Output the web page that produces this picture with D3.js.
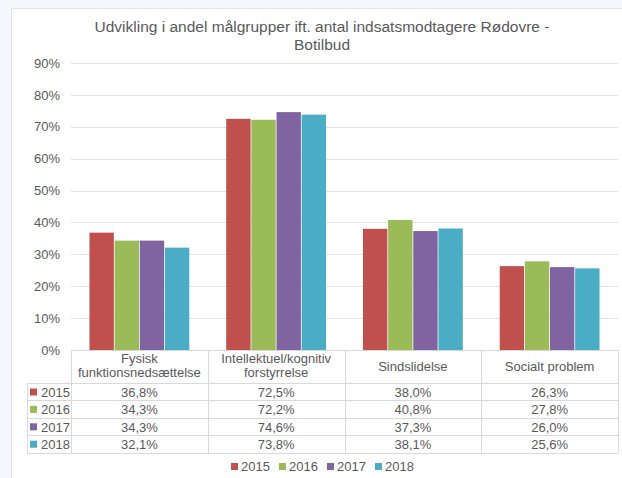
<!DOCTYPE html>
<html>
<head>
<meta charset="utf-8">
<script src="https://cdn.jsdelivr.net/npm/d3@7"></script>
<style>
body { margin: 0; background: #f4f7fc; }
text { font-family: "Liberation Sans", Arial, sans-serif; fill: #595959; }
</style>
</head>
<body>
<svg id="chart" width="622" height="478"></svg>
<script>
// data
const titleLines = ["Udvikling i andel målgrupper ift. antal indsatsmodtagere Rødovre -", "Botilbud"];
const categories = [["Fysisk", "funktionsnedsættelse"], ["Intellektuel/kognitiv", "forstyrrelse"], ["Sindslidelse"], ["Socialt problem"]];
const years = ["2015", "2016", "2017", "2018"];
const values2015 = [36.8, 72.5, 38.0, 26.3];
const values2016 = [34.3, 72.2, 40.8, 27.8];
const values2017 = [34.3, 74.6, 37.3, 26.0];
const values2018 = [32.1, 73.8, 38.1, 25.6];
const yTicks = [0, 10, 20, 30, 40, 50, 60, 70, 80, 90];
const colors = ["#C0504D", "#9BBB59", "#8064A2", "#4BACC6"];

const series = [values2015, values2016, values2017, values2018];
const fmt = v => v.toFixed(1).replace(".", ",") + "%";

const svg = d3.select("#chart");
const plotLeft = 71, plotRight = 618, plotTop = 63, base = 350;
const gridColor = "#e3e3e3", lineColor = "#d9d9d9";

// panneau blanc
svg.append("rect")
    .attr("x", 11.5).attr("y", 8.5)
    .attr("width", 640).attr("height", 500)
    .attr("fill", "#fff")
    .attr("stroke", "#e3e6ec");

// titre
svg.append("text")
    .attr("x", 322).attr("y", 32)
    .attr("text-anchor", "middle")
    .style("font-size", "15.5px")
    .selectAll("tspan")
    .data(titleLines)
    .enter().append("tspan")
    .attr("x", 322)
    .attr("dy", (d, i) => i == 0 ? 0 : 17.5)
    .text(d => d);

const y = d3.scaleLinear().domain([0, 90]).range([base, plotTop]);
const xCol = d3.scaleBand().domain(d3.range(categories.length)).range([plotLeft, plotRight]).padding(0);
const x0 = d3.scaleBand().domain(d3.range(categories.length)).range([plotLeft, plotRight])
    .paddingInner(0.27).paddingOuter(0.135);
const x1 = d3.scaleBand().domain(d3.range(years.length)).range([0, x0.bandwidth()]).paddingInner(0.03);

// grille
svg.append("g")
    .selectAll("line")
    .data(yTicks.filter(d => d > 0))
    .enter().append("line")
    .attr("x1", plotLeft).attr("x2", plotRight)
    .attr("y1", d => Math.round(y(d)) + 0.5)
    .attr("y2", d => Math.round(y(d)) + 0.5)
    .attr("stroke", gridColor);

// axe Y
const yAxis = d3.axisLeft(y).tickValues(yTicks).tickSize(0).tickPadding(11)
    .tickFormat(d => d + "%");
const gy = svg.append("g")
    .attr("transform", "translate(" + plotLeft + ",0)")
    .call(yAxis);
gy.select(".domain").remove();
gy.selectAll("text")
    .style("font-size", "13px")
    .attr("fill", "#595959");

// barres
const groups = svg.append("g")
    .selectAll("g")
    .data(categories)
    .enter().append("g")
    .attr("transform", (d, i) => "translate(" + x0(i) + ",0)");

groups.selectAll("rect")
    .data((d, i) => series.map((s, j) => ({ j: j, v: s[i] })))
    .enter().append("rect")
    .attr("x", d => x1(d.j))
    .attr("width", x1.bandwidth())
    .attr("y", d => y(d.v))
    .attr("height", d => base - y(d.v))
    .attr("fill", d => colors[d.j]);

// tableau
const headerBottom = 383, rowH = 17.4;
const tableBottom = headerBottom + rowH * years.length;
const table = svg.append("g").attr("stroke", lineColor).attr("shape-rendering", "crispEdges");

table.append("line").attr("x1", plotLeft).attr("x2", plotRight).attr("y1", base + 0.5).attr("y2", base + 0.5);
d3.range(years.length + 1).forEach(function(i) {
    const yy = Math.round(headerBottom + i * rowH) + 0.5;
    table.append("line").attr("x1", 27).attr("x2", plotRight).attr("y1", yy).attr("y2", yy);
});
d3.range(categories.length + 1).forEach(function(i) {
    const xx = Math.round(plotLeft + i * xCol.step()) + 0.5;
    table.append("line").attr("x1", xx).attr("x2", xx).attr("y1", base).attr("y2", tableBottom);
});
table.append("line").attr("x1", 27.5).attr("x2", 27.5).attr("y1", headerBottom).attr("y2", tableBottom);

// entêtes
svg.append("g")
    .selectAll("text")
    .data(categories)
    .enter().append("text")
    .attr("text-anchor", "middle")
    .style("font-size", "13px")
    .attr("y", d => d.length == 1 ? 371 : 363)
    .each(function(d, i) {
        d3.select(this).selectAll("tspan")
            .data(d)
            .enter().append("tspan")
            .attr("x", xCol(i) + xCol.bandwidth() / 2)
            .attr("dy", (t, k) => k == 0 ? 0 : 14)
            .text(t => t);
    });

// lignes de valeurs
years.forEach(function(yr, j) {
    const rowTop = headerBottom + j * rowH;
    const row = svg.append("g");
    row.append("rect")
        .attr("x", 30).attr("y", rowTop + 5.5)
        .attr("width", 7).attr("height", 7)
        .attr("fill", colors[j]);
    row.append("text")
        .attr("x", 41).attr("y", rowTop + 14)
        .style("font-size", "13px")
        .text(yr);
    row.selectAll(".val")
        .data(series[j])
        .enter().append("text")
        .attr("class", "val")
        .attr("x", (d, i) => xCol(i) + xCol.bandwidth() / 2)
        .attr("y", rowTop + 14)
        .attr("text-anchor", "middle")
        .style("font-size", "13px")
        .text(d => fmt(d));
});

// légende
const legend = svg.append("g")
    .selectAll("g")
    .data(years)
    .enter().append("g")
    .attr("transform", (d, i) => "translate(" + (231 + i * 48) + ",463)");
legend.append("rect")
    .attr("width", 7).attr("height", 7)
    .attr("fill", (d, i) => colors[i]);
legend.append("text")
    .attr("x", 10).attr("y", 8)
    .style("font-size", "13px")
    .text(d => d);
</script>
</body>
</html>
